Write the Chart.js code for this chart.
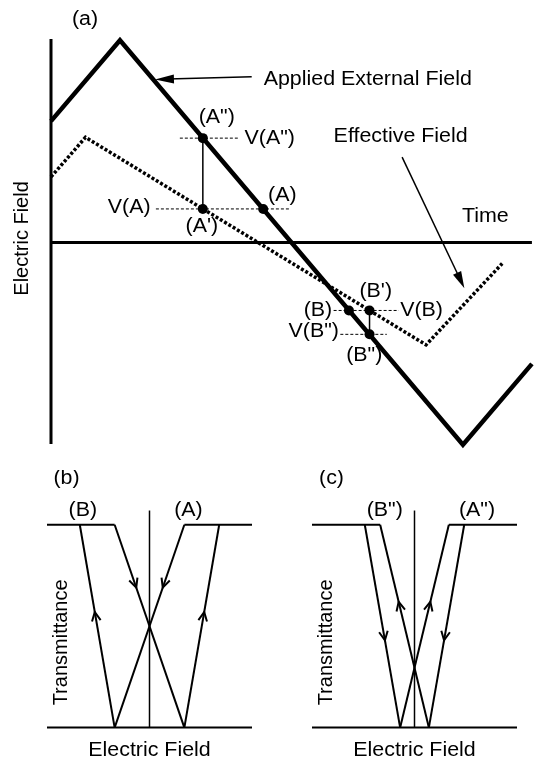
<!DOCTYPE html>
<html>
<head>
<meta charset="utf-8">
<script src="https://cdn.jsdelivr.net/npm/chart.js@4.4.1/dist/chart.umd.min.js"></script>
<style>
  html, body { margin: 0; padding: 0; background: #fff; }
  #wrap { position: relative; width: 535px; height: 767px; overflow: hidden; }
  .panel { position: absolute; }
</style>
</head>
<body>
<div id="wrap">
  <div class="panel" style="left:0;top:0;width:535px;height:470px"><canvas id="fieldTime"></canvas></div>
  <div class="panel" style="left:0;top:470px;width:267px;height:297px"><canvas id="loopB"></canvas></div>
  <div class="panel" style="left:267px;top:470px;width:268px;height:297px"><canvas id="loopC"></canvas></div>
</div>
<script>
// (a) electric field against time
const timeRange = [0, 10];
const fieldRange = [-5.5, 5.5];
const appliedTime = [0, 1.44, 8.6, 10.04];
const appliedField = [3.0, 5.0, -5.0, -3.0];
const effectiveTime = [0, 0.72, 7.83, 9.42];
const effectiveField = [1.62, 2.6, -2.53, -0.52];

// states A", A', A, B, B', B"
const pointNames = ['(A")', "(A')", '(A)', '(B)', "(B')", '(B")'];
const pointTime = [3.17, 3.17, 4.43, 6.22, 6.65, 6.65];
const pointField = [2.58, 0.83, 0.83, -1.68, -1.68, -2.27];

// voltage levels V(A"), V(A), V(B), V(B")
const levelNames = ['V(A")', 'V(A)', 'V(B)', 'V(B")'];
const levelField = [2.58, 0.83, -1.68, -2.27];
const levelFrom = [2.69, 2.19, 5.9, 6.04];
const levelTo = [3.9, 4.98, 7.26, 7.01];

// (b), (c) transmittance loops: field where each branch leaves T=1 and reaches T=0
const loopFieldRange = [-10, 10];
const transRange = [-0.15, 1.25];
const bTop = [-6.8, -3.4, 3.4, 6.8];
const bBottom = [-3.4, 3.4, -3.4, 3.4];
const bRising = [true, false, false, true];
const cTop = [-4.85, -3.35, 3.35, 4.85];
const cBottom = [-1.4, 1.4, -1.4, 1.4];
const cRising = [false, true, true, false];

const FONT = '20px "Liberation Sans", Arial, sans-serif';

function path(xs, ys, style) {
    return Object.assign({
        data: xs.map((x, i) => ({ x: x, y: ys[i] })),
        showLine: true,
        pointRadius: 0,
        borderColor: '#000',
        backgroundColor: '#000',
        borderWidth: 2,
        fill: false,
        tension: 0,
        clip: false
    }, style);
}

function drawText(ctx, text, x, y, align, rotate) {
    ctx.save();
    ctx.translate(x, y);
    if (rotate) ctx.rotate(-Math.PI / 2);
    else ctx.scale(1.07, 1);
    ctx.textAlign = align || 'center';
    ctx.textBaseline = 'middle';
    ctx.fillText(text, 0, 0);
    ctx.restore();
}

function filledArrow(ctx, x0, y0, x1, y1, len, half) {
    const a = Math.atan2(y1 - y0, x1 - x0);
    const c = Math.cos(a), s = Math.sin(a);
    ctx.lineWidth = 1.5;
    ctx.beginPath();
    ctx.moveTo(x0, y0);
    ctx.lineTo(x1 - c * len * 0.7, y1 - s * len * 0.7);
    ctx.stroke();
    ctx.beginPath();
    ctx.moveTo(x1, y1);
    ctx.lineTo(x1 - len * c + half * s, y1 - len * s - half * c);
    ctx.lineTo(x1 - len * c - half * s, y1 - len * s + half * c);
    ctx.closePath();
    ctx.fill();
}

function chevron(ctx, tx, ty, dx, dy) {
    const a = Math.atan2(dy, dx);
    const len = 10, spread = 0.45;
    ctx.lineWidth = 2;
    ctx.beginPath();
    ctx.moveTo(tx - len * Math.cos(a - spread), ty - len * Math.sin(a - spread));
    ctx.lineTo(tx, ty);
    ctx.lineTo(tx - len * Math.cos(a + spread), ty - len * Math.sin(a + spread));
    ctx.stroke();
}

function makeChart(id, datasets, xr, yr, padding, overlay) {
    return new Chart(document.getElementById(id), {
        type: 'scatter',
        data: { datasets: datasets },
        options: {
            responsive: true,
            maintainAspectRatio: false,
            animation: false,
            events: [],
            layout: { padding: padding },
            scales: {
                x: { type: 'linear', min: xr[0], max: xr[1], display: false },
                y: { type: 'linear', min: yr[0], max: yr[1], display: false }
            },
            plugins: { legend: { display: false }, tooltip: { enabled: false } }
        },
        plugins: [{
            id: 'overlay',
            afterDatasetsDraw(chart) {
                const ctx = chart.ctx;
                const px = v => chart.scales.x.getPixelForValue(v);
                const py = v => chart.scales.y.getPixelForValue(v);
                ctx.save();
                ctx.fillStyle = '#000';
                ctx.strokeStyle = '#000';
                ctx.font = FONT;
                overlay(ctx, px, py);
                ctx.restore();
            }
        }]
    });
}

// ---- (a) ----
const fieldSets = [
    path(pointTime, pointField, { showLine: false, pointRadius: 5, pointBackgroundColor: '#000', pointBorderWidth: 0 }),
    path([pointTime[0], pointTime[1]], [pointField[0], pointField[1]], { borderWidth: 1.5 }),
    path([pointTime[4], pointTime[5]], [pointField[4], pointField[5]], { borderWidth: 1.5 }),
    path(appliedTime, appliedField, { borderWidth: 4.5, borderJoinStyle: 'miter' }),
    path(effectiveTime, effectiveField, { borderWidth: 3.5, borderDash: [3, 2] }),
    path([0, 0], [5.03, -4.98], { borderWidth: 3 }),
    path([0, 10.04], [0, 0], { borderWidth: 3 })
];
levelField.forEach((v, i) => {
    fieldSets.push(path([levelFrom[i], levelTo[i]], [v, v], { borderWidth: 1, borderDash: [3, 2] }));
});

makeChart('fieldTime', fieldSets, timeRange, fieldRange, { left: 51, right: 4, top: 20, bottom: 2 }, (ctx, px, py) => {
    drawText(ctx, '(a)', px(0.71), py(5.52));
    drawText(ctx, 'Applied External Field', px(4.44), py(4.03), 'left');
    drawText(ctx, 'Effective Field', px(5.9), py(2.63), 'left');
    drawText(ctx, 'Time', px(8.58), py(0.64), 'left');
    drawText(ctx, 'Electric Field', px(-0.6), py(0.1), 'center', true);

    drawText(ctx, pointNames[0], px(3.46), py(3.09));
    drawText(ctx, pointNames[1], px(3.15), py(0.39));
    drawText(ctx, pointNames[2], px(4.83), py(1.15));
    drawText(ctx, pointNames[3], px(5.87), py(-1.67), 'right');
    drawText(ctx, pointNames[4], px(6.78), py(-1.2));
    drawText(ctx, pointNames[5], px(6.54), py(-2.8));

    drawText(ctx, levelNames[0], px(4.04), py(2.58), 'left');
    drawText(ctx, levelNames[1], px(2.08), py(0.86), 'right');
    drawText(ctx, levelNames[2], px(7.29), py(-1.67), 'left');
    drawText(ctx, levelNames[3], px(6.01), py(-2.19), 'right');

    filledArrow(ctx, px(4.19), py(4.1), px(2.17), py(4.03), 19, 4.5);
    filledArrow(ctx, px(7.33), py(2.11), px(8.63), py(-1.13), 17, 4.5);
});

// ---- (b), (c) ----
function loopSets(top, bottom) {
    const sets = [
        path([loopFieldRange[0], top[1]], [1, 1]),
        path([top[2], loopFieldRange[1]], [1, 1]),
        path(loopFieldRange, [0, 0]),
        path([0, 0], [0, 1.07], { borderWidth: 1.5 })
    ];
    top.forEach((t, i) => sets.push(path([t, bottom[i]], [1, 0])));
    return sets;
}

function loopOverlay(top, bottom, rising, tips, tag, names, namePos) {
    return (ctx, px, py) => {
        drawText(ctx, tag, px(-8.1), py(1.23));
        drawText(ctx, names[0], px(namePos[0]), py(1.07));
        drawText(ctx, names[1], px(namePos[1]), py(1.07));
        drawText(ctx, 'Transmittance', px(-8.6), py(0.42), 'center', true);
        drawText(ctx, 'Electric Field', px(0), py(-0.115));
        top.forEach((t, i) => {
            const xt = px(t), yt = py(1), xb = px(bottom[i]), yb = py(0);
            const tx = xb + (xt - xb) * tips[i];
            const ty = yb + (yt - yb) * tips[i];
            if (rising[i]) chevron(ctx, tx, ty, xt - xb, yt - yb);
            else chevron(ctx, tx, ty, xb - xt, yb - yt);
        });
    };
}

makeChart('loopB', loopSets(bTop, bBottom), loopFieldRange, transRange, { left: 47, right: 15, top: 4, bottom: 9 },
    loopOverlay(bTop, bBottom, bRising, [0.57, 0.69, 0.69, 0.57], '(b)', ['(B)', '(A)'], [-6.5, 3.8]));

makeChart('loopC', loopSets(cTop, cBottom), loopFieldRange, transRange, { left: 45, right: 18, top: 4, bottom: 9 },
    loopOverlay(cTop, cBottom, cRising, [0.43, 0.62, 0.62, 0.43], '(c)', ['(B")', '(A")'], [-2.9, 6.1]));
</script>
</body>
</html>
